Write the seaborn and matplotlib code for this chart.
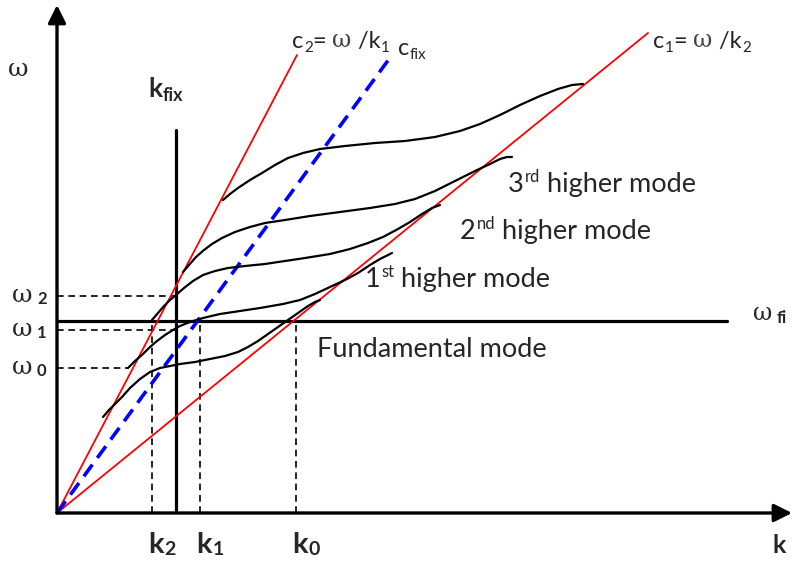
import matplotlib
matplotlib.use("Agg")
import matplotlib.pyplot as plt
import seaborn as sns

sns.set_style("white")
plt.rcParams["font.family"] = ["Lato", "DejaVu Sans"]

# dispersion curves (k, omega)
fund_k = [46, 52, 58, 65, 73, 83, 93, 103, 113, 123, 138, 153, 168, 181, 191, 201,
          211, 221, 231, 241, 251, 258, 263]
fund_w = [96, 103, 109, 116, 125, 134, 141, 145, 147, 149, 151, 154, 157, 161, 166, 172,
          179, 186, 193, 200, 207, 211, 213]

first_k = [71, 78, 86, 93, 100, 108, 116, 123, 133, 146, 163, 183, 203, 226, 243, 258,
           273, 288, 301, 313, 323, 331, 335]
first_w = [145, 152, 159, 166, 172, 178, 183, 187, 191, 195, 199, 202, 205, 209, 213, 219,
           226, 233, 240, 248, 254, 258, 260]

second_k = [95, 101, 107, 113, 119, 127, 136, 146, 158, 171, 188, 208, 228, 248, 273, 293,
            311, 326, 341, 353, 365, 375, 383]
second_w = [193, 200, 207, 213, 218, 225, 232, 238, 242, 245, 247, 249, 252, 255, 259, 264,
            270, 276, 284, 291, 299, 305, 308]

third_k = [126, 132, 139, 147, 155, 165, 178, 193, 208, 228, 253, 283, 313, 338, 358, 378,
           398, 418, 433, 443, 450, 455]
third_w = [241, 248, 256, 263, 269, 275, 281, 286, 290, 293, 297, 301, 305, 309, 314, 322,
           332, 342, 349, 354, 356, 356]

top_k = [166, 173, 181, 193, 205, 218, 231, 246, 263, 288, 318, 348, 378, 403, 423, 443,
         463, 483, 501, 515, 526]
top_w = [313, 319, 325, 333, 340, 348, 355, 360, 364, 367, 370, 372, 376, 382, 389, 398,
         408, 417, 424, 428, 429]

# phase velocity lines through the origin: end points
c2_k, c2_w = [0, 240], [0, 458]
c1_k, c1_w = [0, 591], [0, 480]
cfix_k, cfix_w = [0, 335], [0, 458]

# reference levels
k_fix = 119
k_fix_top = 383
w_fi = 192
w_fi_end = 670
w_levels = [145, 183, 217]          # omega0, omega1, omega2
w_level_ends = [71, 118, 119]
w_names = ["0", "1", "2"]
k_levels = [95, 143, 239]           # k2, k1, k0
k_names = ["2", "1", "0"]

fig = plt.figure(figsize=(7.94, 5.61), dpi=100)
ax = fig.add_axes([57 / 794, 48 / 561, 737 / 794, 513 / 561])
ax.set_xlim(0, 737)
ax.set_ylim(0, 513)
ax.axis("off")

# axes with arrows
arr = dict(arrowstyle="-|>,head_length=0.4,head_width=0.2", lw=2.4, color="black",
           mutation_scale=27, shrinkA=0, shrinkB=0)
ax.annotate("", xy=(0, 508), xytext=(0, 0), arrowprops=arr, annotation_clip=False)
ax.annotate("", xy=(735, 0), xytext=(0, 0), arrowprops=arr, annotation_clip=False)

# dashed guide lines
for w, e in zip(w_levels, w_level_ends):
    ax.plot([0, e], [w, w], color="black", lw=1.2, dashes=(4, 2.8))
for k in k_levels:
    ax.plot([k, k], [0, w_fi], color="black", lw=1.2, dashes=(4, 2.8))

# k_fix and omega_fi
ax.plot([k_fix, k_fix], [0, k_fix_top], color="black", lw=2.3)
ax.plot([0, w_fi_end], [w_fi, w_fi], color="black", lw=2.3)

# phase velocity lines
sns.lineplot(x=c2_k, y=c2_w, color="#ff0000", lw=1.3, ax=ax)
sns.lineplot(x=c1_k, y=c1_w, color="#ff0000", lw=1.3, ax=ax)
ax.plot(cfix_k, cfix_w, color="#0000ff", lw=2.6, dashes=(4, 2.3))

# modes
for kk, ww in [(fund_k, fund_w), (first_k, first_w), (second_k, second_w),
               (third_k, third_w), (top_k, top_w)]:
    sns.lineplot(x=kk, y=ww, color="black", lw=1.6, sort=False, estimator=None, ax=ax)


def chain(x, y, parts, sub_dy=-2.5):
    """Write a label piece by piece: base text, subscripts and superscripts."""
    s0, kind0, p0 = parts[0]
    first = ax.text(x, y, s0, ha="left", va="baseline", clip_on=False, **p0)
    base = prev = first
    for s, kind, props in parts[1:]:
        if kind == "sub":
            a = ax.annotate(s, xy=(1, 0), xycoords=(prev, base), xytext=(0.5, sub_dy),
                            textcoords="offset points", ha="left", va="bottom",
                            annotation_clip=False, **props)
        elif kind == "sup":
            a = ax.annotate(s, xy=(1, 1), xycoords=(prev, base), xytext=(0.5, 2),
                            textcoords="offset points", ha="left", va="top",
                            annotation_clip=False, **props)
        else:
            a = ax.annotate(s, xy=(1, 0), xycoords=(prev, base), xytext=(0, 0),
                            textcoords="offset points", ha="left", va="bottom",
                            annotation_clip=False, **props)
            base = a
        prev = a
    return first


greek = dict(family="DejaVu Serif")
bold = dict(fontweight="bold")

# axis names
ax.text(-39, 443, "ω", fontsize=18, ha="center", va="center", **greek)
ax.text(716, -40, "k", fontsize=18, ha="left", va="baseline", clip_on=False, **bold)

# k ticks
for k, n in zip(k_levels, k_names):
    chain(k - 4, -40, [("k", "base", dict(fontsize=21, **bold)),
                       (n, "sub", dict(fontsize=14, **bold))], sub_dy=0)

# omega ticks
for w, n in zip(w_levels, w_names):
    ax.text(-45, w, "ω", fontsize=18, ha="left", va="center", clip_on=False, **greek)
    ax.text(-20, w - 3, n, fontsize=12, ha="left", va="center", clip_on=False, **bold)

chain(91, 416, [("k", "base", dict(fontsize=19, **bold)),
                ("fix", "sub", dict(fontsize=13, **bold))])

ax.text(696, 199, "ω", fontsize=17, ha="left", va="center", **greek)
ax.text(720, 195, "fi", fontsize=12, ha="left", va="center", clip_on=False, **bold)

# phase velocity labels
grey = "#444444"
for x, a, b in [(235, "2", "1"), (596, "1", "2")]:
    chain(x, 465, [("c", "base", dict(fontsize=17)),
                   (a, "sub", dict(fontsize=11)),
                   ("= ", "base", dict(fontsize=17)),
                   ("ω", "base", dict(fontsize=17, color=grey, **greek)),
                   (" /k", "base", dict(fontsize=17)),
                   (b, "sub", dict(fontsize=11))])
chain(341, 458, [("c", "base", dict(fontsize=17)),
                 ("fix", "sub", dict(fontsize=11))])

# mode labels
for x, y, n, s in [(451, 321, "3", "rd"), (403, 274, "2", "nd"), (308, 226, "1", "st")]:
    chain(x, y, [(n, "base", dict(fontsize=19.5)),
                 (s, "sup", dict(fontsize=12)),
                 (" higher mode", "base", dict(fontsize=19.5))])
ax.text(260, 156, "Fundamental mode", fontsize=19.5, ha="left", va="baseline")

fig.savefig("out.png", dpi=100)
